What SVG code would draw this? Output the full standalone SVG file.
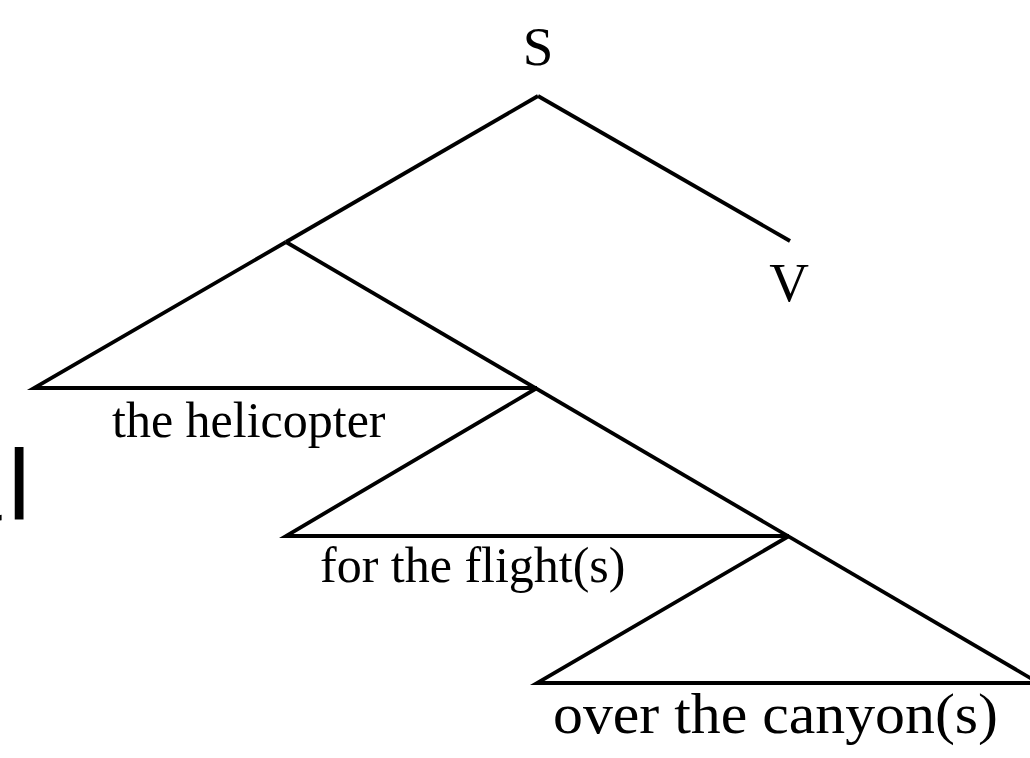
<svg xmlns="http://www.w3.org/2000/svg" width="1030" height="758" viewBox="0 0 1030 758">
<style>
.e{stroke:#000;stroke-width:3.8;fill:none;stroke-linecap:butt}
.t{font-family:"Liberation Serif","Times New Roman",serif;fill:#000}
.s{font-family:"Liberation Sans",Arial,sans-serif;fill:#000;font-size:100px}
</style>
<rect width="1030" height="758" fill="#fff"/>
<text class="s" x="-54" y="520">a</text>
<text class="s" x="8" y="520">l</text>
<g id="connectors">
<line class="e" x1="538" y1="96" x2="286" y2="242"/>
<line class="e" x1="538" y1="96" x2="790" y2="241"/>
<line class="e" x1="286" y1="242" x2="1032" y2="679"/>
<polyline class="e" points="286,242 34,388 537,388"/>
<polyline class="e" points="537,388 286,536 789,536"/>
<polyline class="e" points="789,536 537,683 1032,683"/>
</g>
<g id="S"><text class="t" x="538" y="65" font-size="55" text-anchor="middle">S</text></g>
<g id="V"><text class="t" x="789" y="301" font-size="55" text-anchor="middle">V</text></g>
<g id="np1"><text class="t" x="112" y="437" font-size="50">the helicopter</text></g>
<g id="pp1"><text class="t" x="320" y="582" font-size="50">for the flight(s)</text></g>
<g id="pp2"><text class="t" x="553" y="733" font-size="58" textLength="445" lengthAdjust="spacingAndGlyphs">over the canyon(s)</text></g>
</svg>
